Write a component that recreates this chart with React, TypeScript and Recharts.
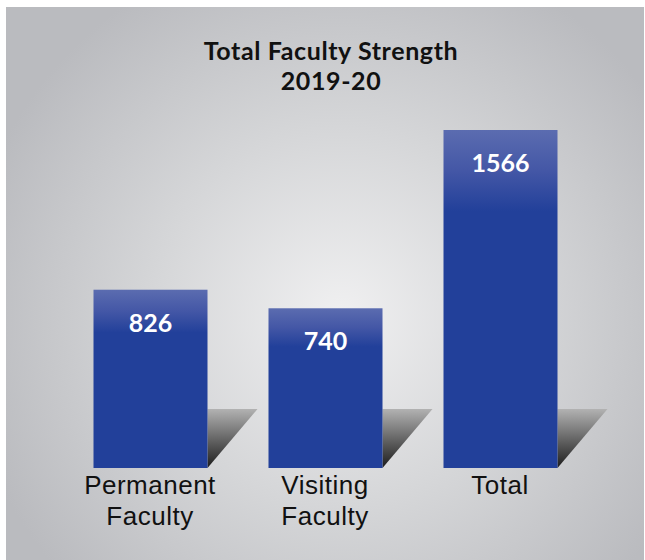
import React from 'react';
import { BarChart, Bar, XAxis, YAxis, LabelList, Customized } from 'recharts';

const categories = ['Permanent Faculty', 'Visiting Faculty', 'Total'];
const facultyCount = [826, 740, 1566];

const data = categories.map((name, i) => ({ name, value: facultyCount[i] }));

const BarWithShadow = (props: any) => {
  const { x, y, width, height } = props;
  const bottom = y + height;
  const sx = x + width;
  return (
    <g>
      <polygon
        points={`${sx},${bottom - 59} ${sx + 50},${bottom - 59} ${sx},${bottom}`}
        fill="url(#shadowGrad)"
      />
      <rect x={x} y={y} width={width} height={height} fill="url(#barGrad)" />
    </g>
  );
};

const ValueLabel = (props: any) => {
  const { x, y, width, value } = props;
  return (
    <text
      x={x + width / 2}
      y={y + 42}
      textAnchor="middle"
      fill="#ffffff"
      fontFamily="Lato"
      fontWeight={700}
      fontSize={25}
    >
      {value}
    </text>
  );
};

const CategoryTick = (props: any) => {
  const { x, y, payload } = props;
  const words = String(payload.value).split(' ');
  return (
    <g>
      {words.map((w, i) => (
        <text
          key={i}
          x={x}
          y={y + 26 + i * 30.5}
          textAnchor="middle"
          fill="#111"
          fontFamily="Liberation Sans"
          fontSize={26}
          letterSpacing={0.5}
        >
          {w}
        </text>
      ))}
    </g>
  );
};

const Title = () => (
  <g fontFamily="Lato" fontWeight={700} fontSize={25} fill="#111" letterSpacing={0.6}>
    <text x={331} y={60} textAnchor="middle">Total Faculty Strength</text>
    <text x={331} y={90} textAnchor="middle">2019-20</text>
  </g>
);

const App: React.FC = () => {
  return (
    <div style={{ position: 'absolute', left: 0, top: 0, width: 645, height: 560, background: '#fff' }}>
      <div
        style={{
          position: 'absolute',
          left: 6,
          top: 7,
          width: 638,
          height: 553,
          background: 'radial-gradient(circle at 335px 310px, #f0f0f1 0px, #d5d6d8 190px, #babbbf 380px)',
        }}
      />
      <div style={{ position: 'absolute', left: 0, top: 0 }}>
        <BarChart
          width={645}
          height={560}
          data={data}
          margin={{ top: 130, right: 57.5, bottom: 12, left: 62.5 }}
          barSize={114}
        >
          <defs>
            <linearGradient id="barGrad" x1="0" y1="0" x2="0" y2="1">
              <stop offset="0" stopColor="#5b6cb0" />
              <stop offset="0.12" stopColor="#4457a6" />
              <stop offset="0.24" stopColor="#22409a" />
              <stop offset="1" stopColor="#22409a" />
            </linearGradient>
            <linearGradient id="shadowGrad" x1="0" y1="0" x2="0" y2="1">
              <stop offset="0" stopColor="#b2b2b2" />
              <stop offset="1" stopColor="#1c1c1c" />
            </linearGradient>
          </defs>
          <XAxis
            dataKey="name"
            axisLine={false}
            tickLine={false}
            tickSize={0}
            tickMargin={0}
            height={80}
            interval={0}
            tick={<CategoryTick />}
          />
          <YAxis hide domain={[0, 1566]} />
          <Bar dataKey="value" shape={<BarWithShadow />} isAnimationActive={false}>
            <LabelList dataKey="value" content={<ValueLabel />} />
          </Bar>
          <Customized component={Title} />
        </BarChart>
      </div>
    </div>
  );
};

export default App;
